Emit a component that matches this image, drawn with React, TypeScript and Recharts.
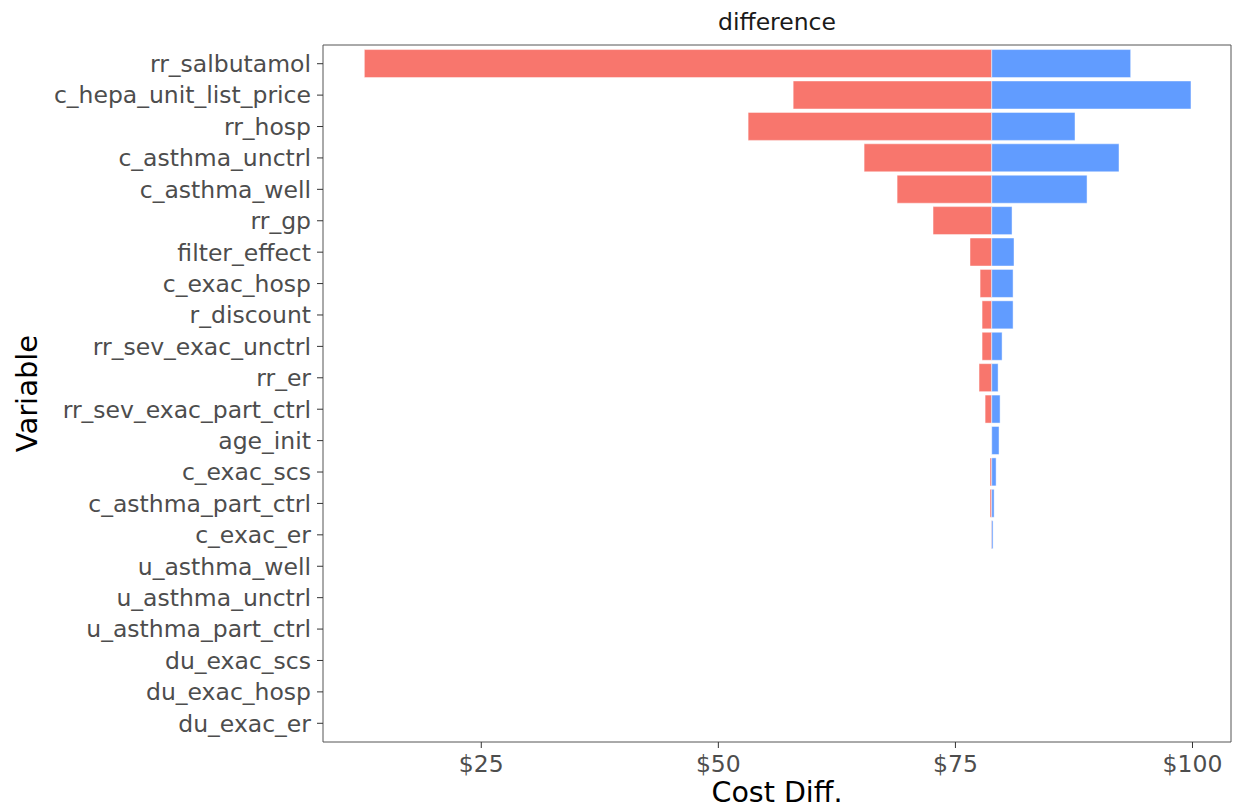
import React from 'react';
import { BarChart, Bar, XAxis, YAxis } from 'recharts';

const variables = [
  'rr_salbutamol', 'c_hepa_unit_list_price', 'rr_hosp', 'c_asthma_unctrl', 'c_asthma_well',
  'rr_gp', 'filter_effect', 'c_exac_hosp', 'r_discount', 'rr_sev_exac_unctrl', 'rr_er',
  'rr_sev_exac_part_ctrl', 'age_init', 'c_exac_scs', 'c_asthma_part_ctrl', 'c_exac_er',
  'u_asthma_well', 'u_asthma_unctrl', 'u_asthma_part_ctrl', 'du_exac_scs', 'du_exac_hosp', 'du_exac_er',
];

// base case cost difference
const baseValue = 78.83;

const lowValues = [
  12.67, 57.89, 53.14, 65.37, 68.85, 72.64, 76.54, 77.6, 77.81, 77.81, 77.49,
  78.13, 78.83, 78.65, 78.65, 78.76, 78.83, 78.83, 78.83, 78.83, 78.83, 78.83,
];
const highValues = [
  93.48, 99.84, 87.61, 92.25, 88.88, 80.97, 81.18, 81.08, 81.08, 79.92, 79.5,
  79.71, 79.6, 79.29, 79.08, 78.97, 78.83, 78.83, 78.83, 78.83, 78.83, 78.83,
];

const xTicks = [25, 50, 75, 100];
const xDomain = [8.31, 104.06];

const data = variables.map((name, i) => ({
  name,
  offset: lowValues[i],
  below: baseValue - lowValues[i],
  above: highValues[i] - baseValue,
}));

const FONT = '"DejaVu Sans", sans-serif';
const BORDER = '#555555';

const YLabel = (props: any) => {
  const vb = props.viewBox;
  const cy = vb.y + vb.height / 2;
  return (
    <text x={27} y={cy} transform={`rotate(-90, 27, ${cy})`} textAnchor="middle"
      dominantBaseline="central" fontSize={29} fill="#000" fontFamily={FONT}>
      Variable
    </text>
  );
};

const XLabel = (props: any) => {
  const vb = props.viewBox;
  return (
    <text x={vb.x + vb.width / 2} y={792} textAnchor="middle" dominantBaseline="central"
      fontSize={28.5} fill="#000" fontFamily={FONT}>
      Cost Diff.
    </text>
  );
};

const TitleLabel = (props: any) => {
  const vb = props.viewBox;
  return (
    <text x={vb.x + vb.width / 2} y={22} textAnchor="middle" dominantBaseline="central"
      fontSize={23.5} fill="#1a1a1a" fontFamily={FONT}>
      difference
    </text>
  );
};

export default function App() {
  return (
    <div style={{ position: 'absolute', left: 0, top: 0, background: '#fff' }}>
      <BarChart
        width={1236}
        height={810}
        data={data}
        layout="vertical"
        margin={{ top: 0, right: 0, bottom: 0, left: 0 }}
        barCategoryGap="5%"
      >
        <XAxis
          type="number"
          domain={xDomain}
          allowDataOverflow
          ticks={xTicks}
          tickFormatter={(v) => `$${v}`}
          height={68}
          stroke={BORDER}
          tickLine={{ stroke: '#333' }}
          tickSize={6}
          tickMargin={7}
          tick={{ fontSize: 23.5, fill: '#4d4d4d', fontFamily: FONT }}
          label={<XLabel />}
        />
        <XAxis
          xAxisId="top"
          orientation="top"
          type="number"
          domain={xDomain}
          allowDataOverflow
          height={45}
          stroke={BORDER}
          tick={false}
          tickLine={false}
          label={<TitleLabel />}
        />
        <YAxis
          type="category"
          dataKey="name"
          width={323}
          stroke={BORDER}
          padding={{ top: 3, bottom: 3 }}
          tickLine={{ stroke: '#333' }}
          tickSize={6}
          tickMargin={6}
          interval={0}
          tick={{ fontSize: 23.5, fill: '#4d4d4d', fontFamily: FONT }}
          label={<YLabel />}
        />
        <YAxis
          yAxisId="right"
          orientation="right"
          type="category"
          dataKey="name"
          width={5}
          stroke={BORDER}
          tick={false}
          tickLine={false}
        />
        <Bar dataKey="offset" stackId="a" fill="none" stroke="none" isAnimationActive={false} />
        <Bar dataKey="below" stackId="a" fill="#F8766D" stroke="#ffffff" strokeOpacity={0.45}
          strokeWidth={1} isAnimationActive={false} />
        <Bar dataKey="above" stackId="a" fill="#619CFF" stroke="#ffffff" strokeOpacity={0.45}
          strokeWidth={1} isAnimationActive={false} />
      </BarChart>
    </div>
  );
}
